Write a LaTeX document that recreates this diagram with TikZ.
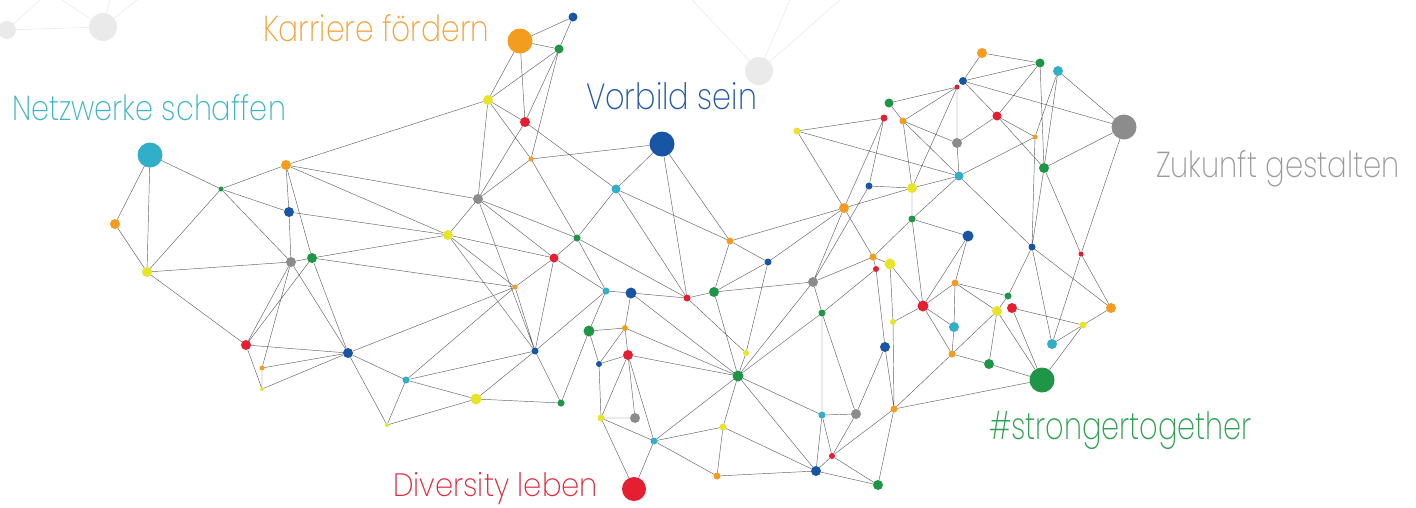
\documentclass[tikz,border=0pt]{standalone}
\usepackage{fontspec}
\usepackage{graphicx}
\IfFontExistsTF{Poppins ExtraLight}{\newfontfamily\lblfont{Poppins ExtraLight}}{\IfFontExistsTF{Poppins Light}{\newfontfamily\lblfont{Poppins Light}}{\newfontfamily\lblfont{Poppins}}}
\definecolor{cOr}{RGB}{243,156,30}
\definecolor{cYe}{RGB}{232,228,40}
\definecolor{cRe}{RGB}{230,30,50}
\definecolor{cGr}{RGB}{30,150,70}
\definecolor{cBl}{RGB}{25,85,165}
\definecolor{cCy}{RGB}{50,175,200}
\definecolor{cGy}{RGB}{140,140,140}
\definecolor{tOr}{RGB}{244,162,59}
\definecolor{tCy}{RGB}{61,181,200}
\definecolor{tBl}{RGB}{32,88,166}
\definecolor{tGy}{RGB}{154,154,154}
\definecolor{tGr}{RGB}{45,160,80}
\definecolor{tRe}{RGB}{229,40,58}
\definecolor{bgc}{RGB}{234,234,234}
\tikzset{
  dot/.style={circle,inner sep=0pt,outer sep=0pt,draw=none,fill=#1},
  dia/.style={minimum size=#1pt},
  edge/.style={draw=black!62,line width=0.45pt},
  bgline/.style={draw=bgc,line width=0.6pt},
  bgdot/.style={circle,inner sep=0pt,outer sep=0pt,draw=none,fill=bgc},
  lbl/.style={anchor=base west,inner sep=0pt,outer sep=0pt}
}
\newcommand{\fitlbl}[3]{\resizebox{#1pt}{#2pt}{\lblfont #3}}
\begin{document}
\begin{tikzpicture}[x=1pt,y=-1pt]
\useasboundingbox (0,0) rectangle (1416,507);
% background decoration
\node[bgdot,minimum size=18pt] (b1) at (7,30) {};
\node[bgdot,minimum size=28pt] (b2) at (103,27) {};
\node[bgdot,minimum size=28pt] (b3) at (759,71) {};
\coordinate (e1) at (40,0);
\coordinate (e2) at (62,0);
\coordinate (e3) at (110,0);
\coordinate (e4) at (137,0);
\coordinate (e5) at (692,0);
\coordinate (e6) at (790,0);
\coordinate (e7) at (840,0);
\draw[bgline] (b1)--(b2) (b1)--(e1) (b2)--(e2) (b2)--(e3) (b2)--(e4) (b3)--(e5) (b3)--(e6) (b3)--(e7);
% nodes
\node[dot=cCy,dia=25] (n1) at (150,155) {};
\node[dot=cOr,dia=10] (n2) at (115,224) {};
\node[dot=cYe,dia=10] (n3) at (147,272) {};
\node[dot=cGr,dia=5] (n4) at (221,189) {};
\node[dot=cOr,dia=10] (n5) at (286,165) {};
\node[dot=cBl,dia=10] (n6) at (289,212) {};
\node[dot=cGy,dia=10] (n7) at (291,262) {};
\node[dot=cGr,dia=10] (n8) at (312,258) {};
\node[dot=cRe,dia=10] (n9) at (246,345) {};
\node[dot=cOr,dia=5] (n10) at (262,368) {};
\node[dot=cYe,dia=4] (n11) at (262,389) {};
\node[dot=cBl,dia=10] (n12) at (348,353) {};
\node[dot=cCy,dia=7] (n13) at (406,380) {};
\node[dot=cYe,dia=4] (n14) at (387,425) {};
\node[dot=cYe,dia=11] (n15) at (476,399) {};
\node[dot=cGr,dia=7] (n16) at (561,403) {};
\node[dot=cBl,dia=7] (n17) at (535,351) {};
\node[dot=cYe,dia=10] (n18) at (448,235) {};
\node[dot=cGy,dia=10] (n19) at (478,199) {};
\node[dot=cOr,dia=5] (n20) at (515,287) {};
\node[dot=cRe,dia=9] (n21) at (554,258) {};
\node[dot=cGr,dia=7] (n22) at (577,238) {};
\node[dot=cCy,dia=9] (n23) at (616,189) {};
\node[dot=cBl,dia=25] (n24) at (662,144) {};
\node[dot=cOr,dia=5] (n25) at (531,159) {};
\node[dot=cRe,dia=10] (n26) at (525,122) {};
\node[dot=cYe,dia=10] (n27) at (488,100) {};
\node[dot=cOr,dia=25] (n28) at (520,41) {};
\node[dot=cGr,dia=9] (n29) at (559,49) {};
\node[dot=cBl,dia=9] (n30) at (573,17) {};
\node[dot=cCy,dia=7] (n31) at (606,291) {};
\node[dot=cBl,dia=11] (n32) at (631,293) {};
\node[dot=cRe,dia=7] (n33) at (687,298) {};
\node[dot=cGr,dia=10] (n34) at (714,292) {};
\node[dot=cGr,dia=11] (n35) at (589,331) {};
\node[dot=cOr,dia=6] (n36) at (625,328) {};
\node[dot=cBl,dia=6] (n37) at (599,364) {};
\node[dot=cRe,dia=10] (n38) at (628,355) {};
\node[dot=cYe,dia=7] (n39) at (601,418) {};
\node[dot=cGy,dia=10] (n40) at (635,418) {};
\node[dot=cCy,dia=7] (n41) at (654,441) {};
\node[dot=cRe,dia=24] (n42) at (634,489) {};
\node[dot=cOr,dia=7] (n43) at (717,476) {};
\node[dot=cYe,dia=7] (n44) at (723,427) {};
\node[dot=cGr,dia=11] (n45) at (738,376) {};
\node[dot=cYe,dia=6] (n46) at (746,353) {};
\node[dot=cOr,dia=7] (n47) at (730,241) {};
\node[dot=cBl,dia=7] (n48) at (768,262) {};
\node[dot=cGy,dia=10] (n49) at (813,282) {};
\node[dot=cOr,dia=10] (n50) at (844,208) {};
\node[dot=cGr,dia=7] (n51) at (822,313) {};
\node[dot=cCy,dia=7] (n52) at (822,415) {};
\node[dot=cGy,dia=10] (n53) at (856,414) {};
\node[dot=cRe,dia=6] (n54) at (832,456) {};
\node[dot=cBl,dia=10] (n55) at (816,471) {};
\node[dot=cGr,dia=10] (n56) at (878,485) {};
\node[dot=cOr,dia=7] (n57) at (894,409) {};
\node[dot=cBl,dia=10] (n58) at (885,347) {};
\node[dot=cYe,dia=6] (n59) at (893,322) {};
\node[dot=cOr,dia=7] (n60) at (873,257) {};
\node[dot=cRe,dia=6] (n61) at (876,269) {};
\node[dot=cYe,dia=11] (n62) at (890,264) {};
\node[dot=cGr,dia=7] (n63) at (912,219) {};
\node[dot=cBl,dia=11] (n64) at (968,236) {};
\node[dot=cOr,dia=7] (n65) at (955,283) {};
\node[dot=cRe,dia=11] (n66) at (923,306) {};
\node[dot=cCy,dia=10] (n67) at (954,327) {};
\node[dot=cOr,dia=7] (n68) at (952,354) {};
\node[dot=cGr,dia=10] (n69) at (989,364) {};
\node[dot=cGr,dia=25] (n70) at (1042,380) {};
\node[dot=cGr,dia=7] (n71) at (1008,296) {};
\node[dot=cYe,dia=10] (n72) at (997,311) {};
\node[dot=cRe,dia=10] (n73) at (1012,308) {};
\node[dot=cCy,dia=10] (n74) at (1052,344) {};
\node[dot=cYe,dia=7] (n75) at (1083,325) {};
\node[dot=cOr,dia=10] (n76) at (1111,308) {};
\node[dot=cRe,dia=5] (n77) at (1081,254) {};
\node[dot=cBl,dia=7] (n78) at (1032,247) {};
\node[dot=cGr,dia=10] (n79) at (1044,168) {};
\node[dot=cGy,dia=25] (n80) at (1124,127) {};
\node[dot=cCy,dia=10] (n81) at (1058,71) {};
\node[dot=cGr,dia=9] (n82) at (1040,63) {};
\node[dot=cOr,dia=10] (n83) at (982,53) {};
\node[dot=cBl,dia=8] (n84) at (963,81) {};
\node[dot=cRe,dia=5] (n85) at (957,87) {};
\node[dot=cGr,dia=9] (n86) at (889,103) {};
\node[dot=cRe,dia=7] (n87) at (884,118) {};
\node[dot=cOr,dia=7] (n88) at (903,121) {};
\node[dot=cYe,dia=7] (n89) at (797,131) {};
\node[dot=cGy,dia=10] (n90) at (957,143) {};
\node[dot=cRe,dia=9] (n91) at (997,116) {};
\node[dot=cOr,dia=5] (n92) at (1035,137) {};
\node[dot=cCy,dia=9] (n94) at (959,176) {};
\node[dot=cBl,dia=7] (n95) at (869,186) {};
\node[dot=cYe,dia=10] (n96) at (912,188) {};
% edges left
\draw[edge] (n1)--(n2) (n1)--(n3) (n1)--(n4) (n2)--(n3) (n3)--(n4) (n3)--(n7) (n3)--(n9)
 (n4)--(n5) (n4)--(n6) (n4)--(n7) (n5)--(n6) (n6)--(n7) (n5)--(n8) (n5)--(n18) (n5)--(n19) (n5)--(n27)
 (n6)--(n18) (n7)--(n8) (n8)--(n18) (n8)--(n20) (n7)--(n9) (n8)--(n9) (n7)--(n10) (n7)--(n12) (n8)--(n12)
 (n9)--(n12) (n9)--(n11) (n10)--(n11) (n10)--(n12) (n11)--(n12) (n12)--(n13) (n12)--(n14) (n12)--(n20)
 (n13)--(n14) (n13)--(n15) (n13)--(n17) (n13)--(n20) (n14)--(n15) (n15)--(n16) (n15)--(n17) (n16)--(n17) (n16)--(n35);
% edges middle
\draw[edge] (n18)--(n19) (n18)--(n20) (n18)--(n21) (n18)--(n17) (n19)--(n27) (n19)--(n26) (n19)--(n25) (n19)--(n22)
 (n19)--(n21) (n19)--(n17) (n20)--(n21) (n20)--(n17) (n21)--(n22) (n21)--(n17) (n21)--(n31) (n22)--(n23) (n22)--(n31)
 (n22)--(n33) (n27)--(n25) (n25)--(n22) (n17)--(n31) (n23)--(n24) (n23)--(n26) (n23)--(n33) (n23)--(n47) (n24)--(n25) (n24)--(n33) (n24)--(n47)
 (n25)--(n29) (n26)--(n27) (n26)--(n28) (n26)--(n29) (n27)--(n28) (n27)--(n29) (n28)--(n29) (n28)--(n30) (n29)--(n30)
 (n31)--(n32) (n31)--(n35) (n32)--(n33) (n32)--(n36) (n32)--(n45) (n33)--(n34) (n33)--(n46) (n35)--(n36) (n35)--(n37)
 (n36)--(n37) (n36)--(n38) (n36)--(n45) (n37)--(n38) (n37)--(n39) (n38)--(n39) (n38)--(n40) (n38)--(n41) (n38)--(n45)
 (n39)--(n40) (n39)--(n41) (n39)--(n42) (n41)--(n42) (n41)--(n43) (n41)--(n44) (n41)--(n45) (n43)--(n44) (n43)--(n55)
 (n44)--(n45) (n44)--(n55) (n45)--(n46) (n45)--(n51) (n45)--(n52) (n45)--(n55) (n34)--(n45) (n34)--(n47) (n34)--(n48)
 (n34)--(n49) (n47)--(n48) (n47)--(n50) (n48)--(n50) (n48)--(n46) (n49)--(n50) (n49)--(n60) (n49)--(n51) (n49)--(n45) (n49)--(n95);
% edges right
\draw[edge] (n50)--(n89) (n50)--(n87) (n50)--(n60) (n50)--(n96) (n87)--(n89) (n89)--(n94) (n87)--(n95) (n95)--(n96)
 (n86)--(n85) (n86)--(n88) (n88)--(n85) (n88)--(n90) (n88)--(n94) (n88)--(n96) (n85)--(n90) (n85)--(n96)
 (n84)--(n83) (n84)--(n82) (n84)--(n91) (n84)--(n80) (n83)--(n82) (n82)--(n91) (n82)--(n79) (n81)--(n92) (n81)--(n79)
 (n81)--(n80) (n91)--(n90) (n91)--(n92) (n91)--(n79) (n90)--(n94) (n92)--(n94) (n92)--(n78) (n79)--(n80) (n79)--(n77)
 (n80)--(n77) (n77)--(n74) (n77)--(n76) (n78)--(n76) (n76)--(n75) (n75)--(n74) (n73)--(n75) (n75)--(n70)
 (n96)--(n94) (n96)--(n63) (n63)--(n94) (n94)--(n78) (n79)--(n78) (n78)--(n74) (n78)--(n71)
 (n60)--(n62) (n60)--(n63) (n60)--(n61) (n61)--(n58) (n61)--(n51) (n62)--(n59) (n62)--(n66) (n63)--(n66) (n63)--(n64)
 (n64)--(n66) (n64)--(n65) (n65)--(n67) (n65)--(n66) (n65)--(n71) (n65)--(n72) (n66)--(n59) (n66)--(n67) (n66)--(n68)
 (n67)--(n68) (n59)--(n57) (n72)--(n71) (n72)--(n68) (n72)--(n69) (n72)--(n70) (n73)--(n70)
 (n51)--(n52) (n51)--(n53) (n52)--(n53) (n52)--(n54) (n52)--(n55) (n53)--(n54) (n53)--(n58) (n58)--(n57)
 (n57)--(n68) (n57)--(n70) (n57)--(n54) (n57)--(n56) (n54)--(n55) (n54)--(n56) (n55)--(n56) (n68)--(n69) (n69)--(n70);
% labels
\node[lbl,text=tOr] (lk) at (263,41) {\fitlbl{226}{27}{Karriere fördern}};
\node[lbl,text=tCy] (ln) at (12,120) {\fitlbl{274}{26}{Netzwerke schaffen}};
\node[lbl,text=tBl] (lv) at (586,109) {\fitlbl{171}{27}{Vorbild sein}};
\node[lbl,text=tGy] (lz) at (1156,177) {\fitlbl{244}{27}{Zukunft gestalten}};
\node[lbl,text=tGr] (ls) at (989,439) {\fitlbl{263}{28}{\#strongertogether}};
\node[lbl,text=tRe] (ld) at (393,496) {\fitlbl{205}{24}{Diversity leben}};
\end{tikzpicture}
\end{document}
